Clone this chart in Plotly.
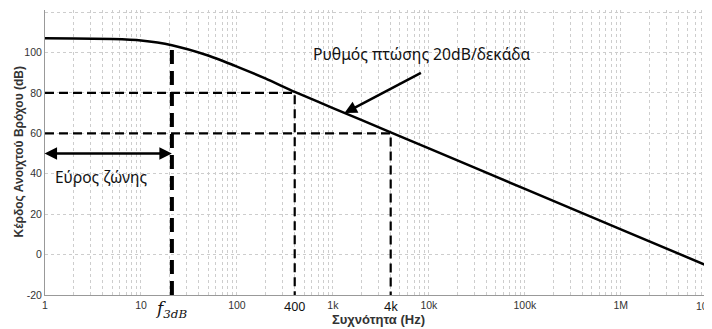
import numpy as np
import plotly.graph_objects as go

# Open-loop gain
freq_hz = [1, 2, 5, 10, 21, 50, 100, 200, 400, 1000, 4000, 10000, 100000, 1000000, 10000000]
gain_db = [107, 106.9, 106.6, 105.9, 103.6, 98.5, 93, 87, 80.5, 72.5, 60.5, 52.5, 32.5, 12.5, -7.5]

# Marker frequencies / levels
f3db_hz = 21
f3db_gain = 103.6
f_80 = 400
f_60 = 4000
level_80 = 80
level_60 = 60
bw_level = 50
y_min = -20

major_vals = [1, 10, 100, 1000, 10000, 100000, 1000000, 10000000]
major_text = ["1", "10", "100", "1k", "10k", "100k", "1M", "10M"]
y_ticks = [-20, 0, 20, 40, 60, 80, 100, 120]
y_text = ["-20", "0", "20", "40", "60", "80", "100", "120"]

tickvals, ticktext = [], []
for i, d in enumerate(major_vals):
    tickvals.append(d)
    ticktext.append(major_text[i])
    if d < 10000000:
        for m in range(2, 10):
            tickvals.append(d * m)
            ticktext.append("")

fig = go.Figure()

# dashed guide lines
fig.add_trace(go.Scatter(x=[1, f_80, f_80], y=[level_80, level_80, y_min], mode="lines",
                         line=dict(color="black", width=2.2, dash="9px,5px"), hoverinfo="skip"))
fig.add_trace(go.Scatter(x=[1, f_60, f_60], y=[level_60, level_60, y_min], mode="lines",
                         line=dict(color="black", width=2.2, dash="9px,5px"), hoverinfo="skip"))
fig.add_trace(go.Scatter(x=[f3db_hz, f3db_hz], y=[y_min, f3db_gain], mode="lines",
                         line=dict(color="black", width=4, dash="14px,7px"), hoverinfo="skip"))

# main curve
fig.add_trace(go.Scatter(x=freq_hz, y=gain_db, mode="lines",
                         line=dict(color="black", width=2.5, shape="spline", smoothing=0.6),
                         hoverinfo="skip"))

ann_font = "Noto Sans"
tick_font = dict(family="Liberation Sans", size=10.5, color="#333")
annotations = [
    # double arrow bandwidth
    dict(x=np.log10(f3db_hz), y=bw_level, ax=-0.02, ay=bw_level, axref="x", ayref="y", xref="x", yref="y",
         showarrow=True, arrowhead=2, startarrowhead=2, arrowside="end+start", arrowwidth=2.5,
         arrowsize=1, startarrowsize=1, arrowcolor="black", text=""),
    dict(x=0.58, y=38.4, xref="x", yref="y", text="Εύρος ζώνης", showarrow=False,
         font=dict(family=ann_font, size=15.5, color="#111")),
    dict(x=3.93, y=99, xref="x", yref="y", text="Ρυθμός πτώσης 20dB/δεκάδα", showarrow=False,
         font=dict(family=ann_font, size=15.7, color="#111")),
    dict(x=3.12, y=70, xref="x", yref="y", text="", showarrow=True, ax=78, ay=-41,
         arrowhead=2, arrowwidth=2.5, arrowsize=1, arrowcolor="black"),
    dict(x=np.log10(f_80), y=0, xref="x", yref="paper", yanchor="top", yshift=-1, text="400",
         showarrow=False, font=dict(family=ann_font, size=12.5, color="#111")),
    dict(x=np.log10(f_60), y=0, xref="x", yref="paper", yanchor="top", yshift=-1, text="4k",
         showarrow=False, font=dict(family=ann_font, size=12.5, color="#111")),
    dict(x=np.log10(f3db_hz), y=0, xref="x", yref="paper", yanchor="top", yshift=-1, xshift=-1,
         text="<i>f</i><sub><i>3dB</i></sub>", showarrow=False,
         font=dict(family="DejaVu Serif", size=17, color="#111")),
    # last tick label, at the visible edge as in the source
    dict(x=1, y=0, xref="paper", yref="paper", xanchor="right", yanchor="top", xshift=6, yshift=-3,
         text="10M", showarrow=False, font=tick_font),
    # axis titles
    dict(x=0.5, y=0, xref="paper", yref="paper", xanchor="center", yanchor="middle", yshift=-24,
         text="<b>Συχνότητα (Hz)</b>", showarrow=False,
         font=dict(family="Liberation Sans", size=13, color="#333")),
    dict(x=0, y=0.5, xref="paper", yref="paper", xanchor="center", yanchor="middle", xshift=-27,
         textangle=-90, text="<b>Κέρδος Ανοιχτού Βρόχου (dB)</b>", showarrow=False,
         font=dict(family="Liberation Sans", size=12, color="#333")),
]

# The page body adds an 8px offset; the figure is sized to fill the rest of the window.
fig.update_layout(
    width=704, height=321,
    margin=dict(l=37, r=0, t=2, b=34),
    paper_bgcolor="white", plot_bgcolor="white",
    showlegend=False,
    annotations=annotations,
    font=dict(family="Liberation Sans", size=10, color="#333"),
)
fig.update_xaxes(type="log", range=[0, 6.95], tickvals=tickvals, ticktext=ticktext, automargin=False,
                 showgrid=True, gridcolor="#cdcdcd", griddash="dot", gridwidth=1,
                 showline=True, linecolor="#999", linewidth=1, ticks="", zeroline=False,
                 tickfont=tick_font)
fig.update_yaxes(range=[-20, 121], tickvals=y_ticks, ticktext=y_text, automargin=False,
                 showgrid=True, gridcolor="#cdcdcd", griddash="dot", gridwidth=1,
                 showline=True, linecolor="#999", linewidth=1, ticks="", zeroline=False,
                 tickfont=tick_font)

fig.write_html("out.html")
